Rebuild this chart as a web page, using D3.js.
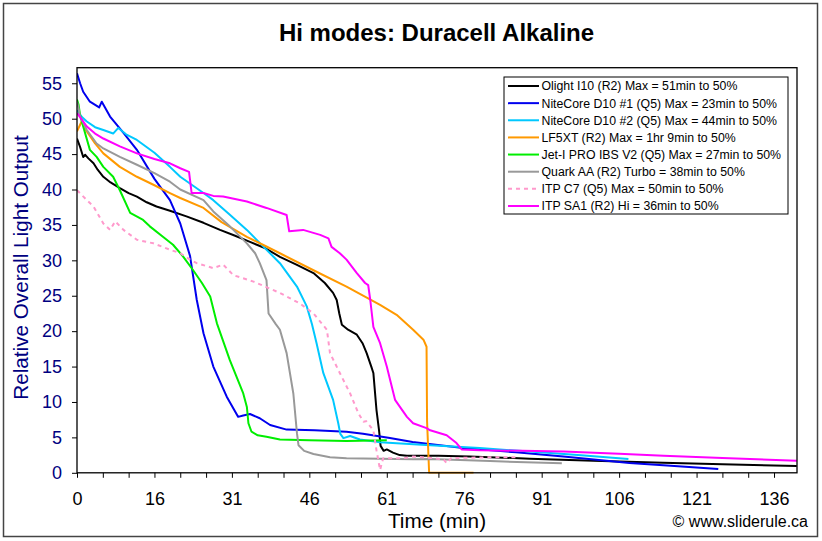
<!DOCTYPE html>
<html><head><meta charset="utf-8">
<script src="https://cdn.jsdelivr.net/npm/d3@7"></script>
<style>
body{margin:0;background:#fff;}
text{font-family:"Liberation Sans",Arial,sans-serif;}
</style>
</head><body>
<svg id="chart" width="822" height="541"></svg>
<script>
const chartTitle = "Hi modes: Duracell Alkaline";
const xTitle = "Time (min)";
const yTitle = "Relative Overall Light Output";
const credit = "\u00A9 www.sliderule.ca";
const xMinorTicks = d3.range(0, 136, 5);
const xLabelPos = [0, 15, 30, 45, 60, 75, 90, 105, 120, 135];
const xTickLabels = ["0", "16", "31", "46", "61", "76", "91", "106", "121", "136"];
const yTicks = [0, 5, 10, 15, 20, 25, 30, 35, 40, 45, 50, 55];

const seriesNames = [
  "Olight I10 (R2) Max = 51min to 50%",
  "NiteCore D10 #1 (Q5) Max = 23min to 50%",
  "NiteCore D10 #2 (Q5) Max = 44min to 50%",
  "LF5XT (R2) Max = 1hr 9min to 50%",
  "Jet-I PRO IBS V2 (Q5) Max = 27min to 50%",
  "Quark AA (R2) Turbo = 38min to 50%",
  "ITP C7 (Q5) Max = 50min to 50%",
  "ITP SA1 (R2) Hi = 36min to 50%"
];
const seriesColors = ["#000000", "#0000ee", "#00c8ff", "#ff9900", "#00ee00", "#999999", "#ff99cc", "#ff00ff"];
const seriesDashed = [false, false, false, false, false, false, true, false];

// [time (min), relative output]
const olight = [[0,47.2],[0.6,46],[1.2,44.6],[1.6,44.9],[2.2,44.4],[3.2,43.7],[4,42.8],[5.1,41.8],[6.5,41],[8.3,40.2],[10,39.5],[11.6,39],[13.5,38.2],[15.4,37.6],[18,37],[21.2,36.2],[24.5,35.3],[27.7,34.3],[30.5,33.5],[33.5,32.6],[36.5,31.7],[39.3,30.5],[42.5,29.4],[45.8,28.2],[48,26.8],[49.6,25.4],[50.3,24.4],[50.8,22.5],[51.3,20.9],[52.5,20.2],[54.2,19.5],[55.3,18.3],[56.1,16.9],[57,15],[57.4,14.1],[57.7,11.5],[58,8.9],[58.5,6],[58.8,3.8],[59.4,3.1],[60,3.3],[61.2,2.85],[62.5,2.5],[63.9,2.4],[70,2.4],[76,2.3],[87.7,2.0],[100,1.7],[113.5,1.43],[125,1.2],[139.4,0.96]];
const nitecore1 = [[0,56.4],[0.6,55],[1.2,53.8],[2.5,52.4],[4.3,51.6],[4.8,52.4],[6.4,50.3],[9,48],[11.6,45.6],[15,41.5],[18,38.5],[20,35.2],[21.9,30.6],[23.2,24.4],[24.5,19.7],[26.4,15],[29,10.75],[31.2,7.9],[32.2,8.1],[33.5,8.3],[35.4,7.7],[37.4,6.75],[40.6,6.1],[46,6.0],[52.2,5.8],[55.4,5.5],[60.6,4.9],[65,4.35],[74.8,3.5],[85,2.9],[94.2,2.3],[107,1.4],[115,1.0],[124.2,0.54]];
const nitecore2 = [[0,51.2],[1,50.2],[1.9,49.6],[3.5,48.8],[5.1,48.4],[7,47.9],[8,48.7],[9.5,47.8],[11.6,47],[15,45.2],[18,43.2],[20,41.8],[24.5,39.5],[26.4,38.5],[29.5,36.5],[32.9,34.3],[36,32],[39.3,29.6],[42.6,26.3],[44.5,23.5],[45.5,21],[46.4,18.3],[47.7,14.1],[49.6,10.3],[50.6,7],[51,5.5],[51.6,4.9],[52.9,5.2],[54.8,4.7],[58.7,4.3],[68.4,3.9],[78,3.5],[87.7,3.0],[97,2.5],[106.8,1.95]];
const lf5xt = [[0,48.2],[0.9,49.6],[1.9,48.2],[3.5,46.5],[5.1,45.1],[8.3,43.2],[11.6,41.8],[15,40.6],[18,39.5],[20,38.8],[24.5,37.4],[28,35.4],[32.9,33.3],[36,32.2],[39.3,31],[45.8,28.6],[52.2,26.3],[58.7,23.7],[61.9,22.3],[65.1,20.2],[67.1,18.8],[67.7,17.8],[67.8,7.3],[68.2,0],[76.8,0]];
const jeti = [[0,52.7],[0.3,52],[0.6,50.5],[1.2,48.9],[2.5,45.6],[3.8,44.6],[5.1,43.2],[7,41.8],[8.3,39.9],[10.3,36.7],[12.8,35.7],[14.1,34.8],[16.7,33.3],[18.6,32.2],[20.6,30.5],[22.5,28.6],[24.2,26.8],[25.8,24.9],[27.1,21.1],[29.6,15.9],[32.2,11.2],[32.9,9.3],[33.2,7],[33.8,5.8],[35,5.3],[36.7,5.1],[39.3,4.7],[45,4.6],[52.2,4.5],[60,4.6]];
const quark = [[0,52.4],[0.3,51.5],[0.6,50.3],[1.9,48.4],[3.8,46.5],[5.1,45.8],[8.3,44.6],[11.6,43.5],[15,42.3],[18,41.1],[20,40],[24.5,38.5],[26.4,36.9],[29.6,34.8],[32.9,32.4],[34.5,31],[35.4,29.6],[36.7,27.2],[37.1,22.5],[38.5,21],[39.3,20.2],[40.6,16.9],[41.9,11.2],[42.6,5.6],[42.9,3.9],[44,3.1],[45.8,2.65],[49,2.2],[52.2,2.05],[65.1,1.9],[68.4,1.95],[80,1.65],[93.9,1.34]];
const itpc7 = [[0,39.9],[1.9,38.5],[3.2,37.6],[5.1,35.2],[6.4,34.3],[7.4,35.5],[9,34.3],[11.6,32.9],[14.8,32.4],[18,31.5],[20,31],[21.9,30.1],[23.2,29.6],[26.4,28.9],[28.3,29.4],[30.3,27.9],[34.2,27],[39.3,25.4],[43.2,23.9],[45.8,22.5],[48.4,20.2],[49,16.9],[50.9,14.1],[52.9,11.2],[54.5,8.4],[55.5,7.2],[56,7.3],[57.4,6],[58,3.2],[58.7,0.4],[59.3,2.05],[63.2,2.05],[65.1,2.3],[68.4,2.1],[71,1.9],[71.6,1.34],[72.5,2.1],[74.2,2.1],[80,2.2],[85,2.2]];
const itpsa1 = [[0,50.8],[1,49.8],[1.9,48.9],[3.5,47.9],[5.1,47.2],[8.3,46.1],[11.6,45.1],[15,44.3],[18,43.7],[20,43],[21.7,42.5],[22.2,39.5],[24.5,39.5],[26.4,39.1],[28.3,39],[32.9,38.3],[36.7,37.4],[40.6,36.4],[41.1,34.1],[43.8,34.3],[47.1,33.6],[48.7,33.1],[49.3,31.9],[50.9,31],[52.2,30.1],[54.2,28.2],[55.8,26.8],[56.4,26.5],[56.8,24.4],[57.4,20.6],[58.7,18.3],[60,15],[61.6,10.3],[63.9,7.9],[65.1,7],[67.7,6.3],[68.4,6],[71.6,5.3],[73.5,4.2],[74.5,3.3],[78,3.2],[94.2,3.0],[105,2.7],[113.6,2.4],[125,2.1],[139.4,1.7]];

const seriesData = [olight, nitecore1, nitecore2, lf5xt, jeti, quark, itpc7, itpsa1];

const svg = d3.select("#chart");
const plot = {left: 77, right: 797, top: 67.7, bottom: 472.8};
const x = d3.scaleLinear().domain([0, 139.45]).range([plot.left, plot.right]);
const y = d3.scaleLinear().domain([0, 57.2]).range([plot.bottom, plot.top]);

// outer frame
svg.append("rect").attr("x", 0).attr("y", 0).attr("width", 822).attr("height", 541).attr("fill", "#fff");
svg.append("rect").attr("x", 3.5).attr("y", 3.5).attr("width", 814).attr("height", 533)
  .attr("fill", "none").attr("stroke", "#444").attr("stroke-width", 1.5);

// title
svg.append("text").attr("x", 436.5).attr("y", 41).attr("text-anchor", "middle")
  .attr("font-size", 24).attr("font-weight", "bold").attr("fill", "#000").text(chartTitle);

// clip
svg.append("clipPath").attr("id", "clip").append("rect")
  .attr("x", plot.left).attr("y", plot.top).attr("width", plot.right - plot.left).attr("height", plot.bottom - plot.top + 1);

// lines
const line = d3.line().x(d => x(d[0])).y(d => y(d[1]));
const g = svg.append("g").attr("clip-path", "url(#clip)");
seriesData.forEach((data, i) => {
  g.append("path").datum(data).attr("d", line)
    .attr("fill", "none").attr("stroke", seriesColors[i])
    .attr("stroke-width", 2).attr("stroke-linejoin", "round")
    .attr("stroke-dasharray", seriesDashed[i] ? "4,4" : null);
});

// plot border
svg.append("rect").attr("x", plot.left).attr("y", plot.top).attr("width", plot.right - plot.left).attr("height", plot.bottom - plot.top)
  .attr("fill", "none").attr("stroke", "#000").attr("stroke-width", 1.3);

// x axis
const xAxis = d3.axisBottom(x).tickValues(xMinorTicks).tickSize(5).tickFormat(d => {
  const k = xLabelPos.indexOf(d);
  return k >= 0 ? xTickLabels[k] : "";
});
const gx = svg.append("g").attr("transform", `translate(0,${plot.bottom})`).call(xAxis);
gx.select(".domain").remove();
gx.selectAll(".tick line").attr("stroke", "#000");
gx.selectAll(".tick text").attr("font-size", 18).attr("fill", "#000").attr("dy", null).attr("y", 32)
  .attr("font-family", "'Liberation Sans', Arial, sans-serif");

// y axis
const yAxis = d3.axisLeft(y).tickValues(yTicks).tickSize(5).tickPadding(10);
const gy = svg.append("g").attr("transform", `translate(${plot.left},0)`).call(yAxis);
gy.select(".domain").remove();
gy.selectAll(".tick line").attr("stroke", "#000");
gy.selectAll(".tick text").attr("font-size", 18).attr("fill", "#000080")
  .attr("font-family", "'Liberation Sans', Arial, sans-serif");

// axis titles
svg.append("text").attr("transform", "translate(28,267.5) rotate(-90)").attr("text-anchor", "middle")
  .attr("font-size", 20.7).attr("fill", "#000080").text(yTitle);
svg.append("text").attr("x", 437).attr("y", 528).attr("text-anchor", "middle")
  .attr("font-size", 20.7).attr("fill", "#000").text(xTitle);
svg.append("text").attr("x", 808).attr("y", 527).attr("text-anchor", "end")
  .attr("font-size", 16).attr("fill", "#000").text(credit);

// legend
const lg = svg.append("g");
lg.append("rect").attr("x", 504).attr("y", 77).attr("width", 284).attr("height", 137)
  .attr("fill", "#fff").attr("stroke", "#000").attr("stroke-width", 1);
seriesNames.forEach((name, i) => {
  const cy = 86 + i * 17.14;
  lg.append("line").attr("x1", 508).attr("x2", 539).attr("y1", cy).attr("y2", cy)
    .attr("stroke", seriesColors[i]).attr("stroke-width", 2)
    .attr("stroke-dasharray", seriesDashed[i] ? "4,4" : null);
  lg.append("text").attr("x", 541.5).attr("y", cy + 4.4).attr("font-size", 12.3).attr("fill", "#000").text(name);
});
</script>
</body></html>
